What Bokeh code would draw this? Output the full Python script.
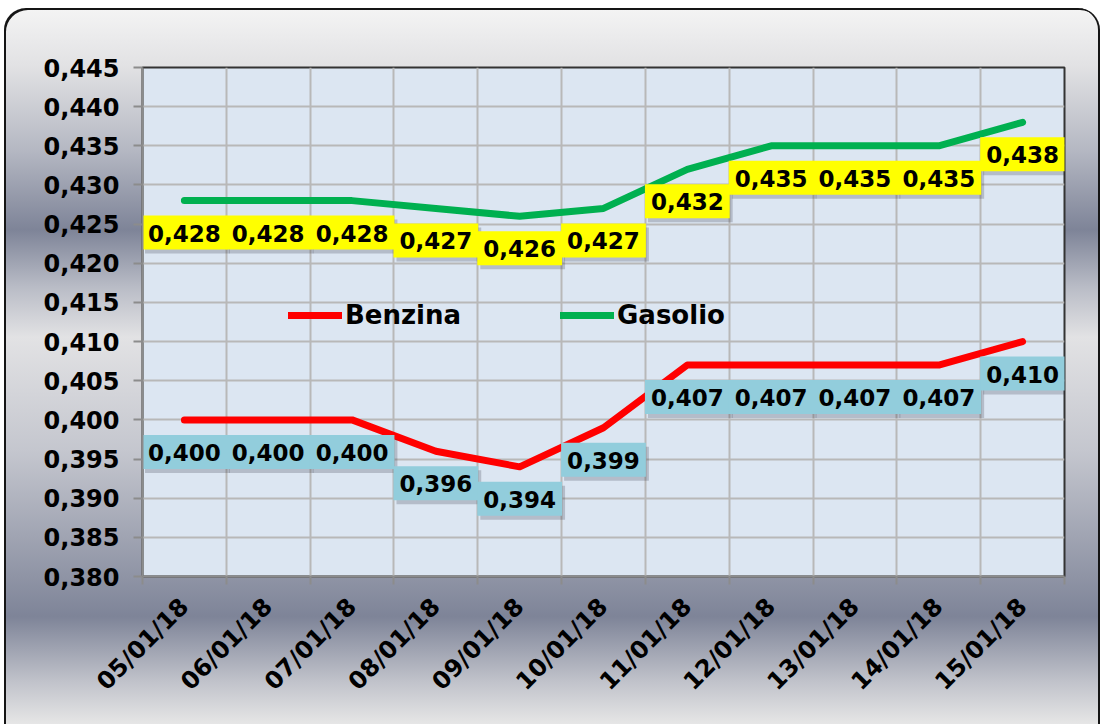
import math
from bokeh.plotting import figure
from bokeh.models import (Range1d, FixedTicker, SingleIntervalTicker,
                          CustomJSTickFormatter, ColumnDataSource)
from bokeh.core.properties import value
from bokeh.embed import file_html
from bokeh.resources import INLINE

# ---- data ----
dates = ["05/01/18", "06/01/18", "07/01/18", "08/01/18", "09/01/18", "10/01/18",
         "11/01/18", "12/01/18", "13/01/18", "14/01/18", "15/01/18"]
benzina = [0.400, 0.400, 0.400, 0.396, 0.394, 0.399, 0.407, 0.407, 0.407, 0.407, 0.410]
gasolio = [0.428, 0.428, 0.428, 0.427, 0.426, 0.427, 0.432, 0.435, 0.435, 0.435, 0.438]
series_names = ["Benzina", "Gasolio"]
y_min, y_max, y_step = 0.380, 0.445, 0.005

FONT = "DejaVu Sans"

def fmt(v):
    return f"{v:.3f}".replace(".", ",")

n = len(dates)
xc = [i + 0.5 for i in range(n)]
src = ColumnDataSource(dict(x=xc, b=benzina, g=gasolio,
                            bl=[fmt(v) for v in benzina],
                            gl=[fmt(v) for v in gasolio]))

p = figure(frame_width=922, frame_height=509,
           min_border_left=138, min_border_right=36,
           min_border_top=59, min_border_bottom=148,
           x_range=Range1d(0, n), y_range=Range1d(y_min, y_max),
           output_backend="svg", toolbar_location=None,
           background_fill_color="#dce6f2", border_fill_color=None,
           outline_line_color="#333333", outline_line_width=2)
p.margin = (8, 0, 0, 4)

p.styles = {
    "background": "linear-gradient(to bottom, #f4f4f4 0%, #e2e2e4 8%, #b4b7c2 20%, "
                  "#7e8498 31%, #b9bcc6 39%, #e2e2e4 46%, #c4c6ce 62%, #7e8498 85%, "
                  "#c0c2ca 94%, #e6e6e6 100%)",
    "border-radius": "22px 22px 0 0",
    "box-shadow": "inset 2px 2px 0 0 #151515, inset -2px 0 0 0 #151515",
}

# grid
p.xgrid.ticker = FixedTicker(ticks=list(range(n + 1)))
p.ygrid.ticker = SingleIntervalTicker(interval=y_step, num_minor_ticks=0)
for g in (p.xgrid[0], p.ygrid[0]):
    g.grid_line_color = "#b8b8b8"
    g.grid_line_width = 2

# x axis
xa = p.xaxis[0]
xa.ticker = FixedTicker(ticks=xc, minor_ticks=list(range(n + 1)))
xa.major_label_overrides = {v: d for v, d in zip(xc, dates)}
xa.major_tick_out = 0
xa.major_tick_in = 0
xa.minor_tick_out = 8
xa.minor_tick_in = 0
xa.minor_tick_line_color = "#8c8c8c"
xa.minor_tick_line_width = 2
xa.axis_line_color = "#8c8c8c"
xa.axis_line_width = 2
xa.major_label_orientation = math.pi / 4
xa.major_label_standoff = 18
xa.major_label_text_font = FONT
xa.major_label_text_font_style = "bold"
xa.major_label_text_font_size = "24px"
xa.major_label_text_color = "black"

# y axis
ya = p.yaxis[0]
ya.ticker = SingleIntervalTicker(interval=y_step, num_minor_ticks=0)
ya.formatter = CustomJSTickFormatter(code="return tick.toFixed(3).replace('.', ',');")
ya.major_tick_out = 9
ya.major_tick_in = 0
ya.minor_tick_out = 0
ya.minor_tick_in = 0
ya.major_tick_line_color = "#8c8c8c"
ya.major_tick_line_width = 2
ya.axis_line_color = "#8c8c8c"
ya.axis_line_width = 2
ya.major_label_standoff = 14
ya.major_label_text_font = FONT
ya.major_label_text_font_style = "bold"
ya.major_label_text_font_size = "24px"
ya.major_label_text_color = "black"

# lines
p.line("x", "b", source=src, line_color="#ff0000", line_width=7,
       line_cap="round", line_join="round", legend_label=series_names[0])
p.line("x", "g", source=src, line_color="#00b050", line_width=7,
       line_cap="round", line_join="round", legend_label=series_names[1])

# data labels (shadow + box)
pad = dict(left=6, right=6, top=9, bottom=8)
for ycol, tcol, fill in (("b", "bl", "#92cddc"), ("g", "gl", "#ffff00")):
    p.text(x="x", y=ycol, text=tcol, source=src,
           text_font=value(FONT), text_font_style="bold", text_font_size="23px",
           text_align="center", text_baseline="middle",
           x_offset=3, y_offset=36, text_alpha=0,
           background_fill_color="#2a2a35", background_fill_alpha=0.22,
           padding=pad)
    p.text(x="x", y=ycol, text=tcol, source=src,
           text_font=value(FONT), text_font_style="bold", text_font_size="23px",
           text_align="center", text_baseline="middle",
           y_offset=32, text_color="black",
           background_fill_color=fill, padding=pad)

lg = p.legend[0]
lg.location = (146, 246)
lg.orientation = "horizontal"
lg.background_fill_alpha = 0
lg.border_line_alpha = 0
lg.padding = 0
lg.margin = 0
lg.spacing = 97
lg.glyph_width = 54
lg.glyph_height = 28
lg.label_standoff = 3
lg.label_width = 118
lg.label_text_font = FONT
lg.label_text_font_style = "bold"
lg.label_text_font_size = "26px"
lg.label_text_color = "black"

open("out.html", "w").write(file_html(p, INLINE))
